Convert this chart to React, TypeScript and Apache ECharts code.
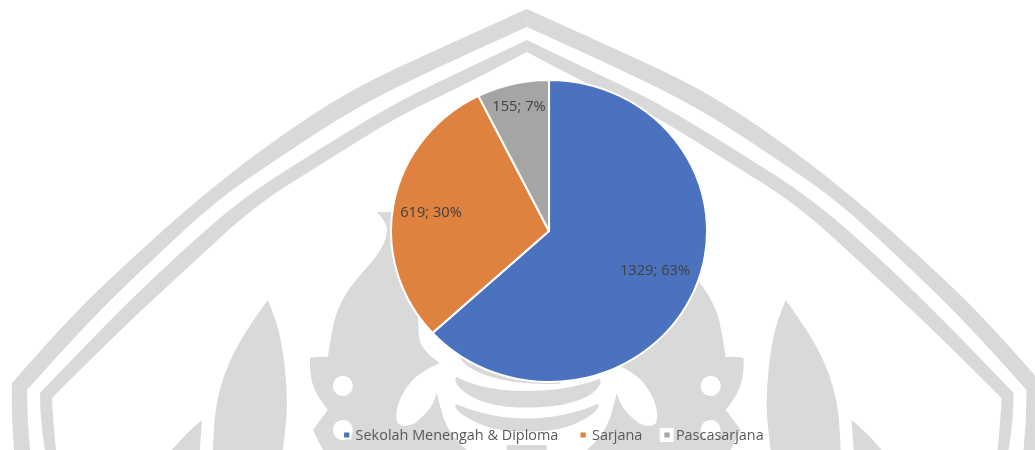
import React, { useEffect, useRef } from "react";
import * as echarts from "echarts";

const categories = ["Sekolah Menengah & Diploma", "Sarjana", "Pascasarjana"];
const values = [1329, 619, 155];
const sliceColors = ["#4A72BE", "#E0823F", "#A5A5A5"];

// The reference is stretched horizontally: the pie is 314 wide and 300 tall.
const STRETCH = 157 / 150;
const PAGE_W = 1035;
const PAGE_H = 450;
const AXIS = 527; // the watermark's axis of symmetry
const GREY = "#D9D9D9";

type P = [number, number];
const labelCentres: P[] = [[655, 270], [431, 212], [519, 106]];

// Watermark outlines. Each inner list is one smooth run; runs meet at sharp corners.
const band1Outer: P[][] = [[[527, 9], [440, 48], [350, 90], [270, 143], [197, 200], [130, 260], [67, 320], [12, 383]], [[12, 383], [11, 410], [14, 450]]];
const band1Inner: P[][] = [[[527, 27], [440, 66], [355, 108], [280, 157], [217, 200], [150, 262], [85, 325], [27, 390]], [[27, 390], [27, 420], [30, 450]]];
const band2Outer: P[][] = [[[527, 40], [460, 72], [395, 103], [310, 155], [240, 200], [170, 262], [105, 325], [40, 393]], [[40, 393], [40, 420], [45, 450]]];
const band2Inner: P[][] = [[[527, 52], [465, 85], [400, 115], [320, 165], [256, 205], [185, 270], [115, 335], [52, 398]], [[52, 398], [53, 420], [56, 450]]];
const leafBig: P[][] = [[[268, 300], [252, 322], [235, 350], [224, 375], [217, 400], [214, 425], [213, 450]], [[213, 450], [283, 450]], [[283, 450], [287, 420], [287, 387], [283, 350], [277, 322], [268, 300]]];
const leafSmall: P[][] = [[[202, 420], [187, 432], [172, 450]], [[172, 450], [200, 450]], [[200, 450], [202, 420]]];
const bodyLeft: P[][] = [
  [[527, 212], [377, 212]],
  [[377, 212], [386, 222], [388, 233], [380, 253], [353, 283], [341, 302], [333, 323], [328, 357]],
  [[328, 357], [318, 356], [310, 358]],
  [[310, 358], [310, 370], [312, 383], [318, 397], [328, 410]],
  [[328, 410], [320, 420], [313, 430]],
  [[313, 430], [318, 440], [323, 450]],
  [[323, 450], [527, 450]],
];
const whiteLeft: P[][] = [
  [[527, 300], [418, 300]],
  [[418, 300], [418, 327], [421, 350], [440, 363]],
  [[440, 363], [420, 372], [404, 390], [396, 410], [397, 426], [412, 426], [426, 414], [434, 403], [437, 393]],
  [[437, 393], [441, 410], [447, 427], [456, 440], [467, 450]],
  [[467, 450], [507, 450]],
  [[507, 450], [507, 445]],
  [[507, 445], [527, 445]],
];
const crescent: P[][] = [[[450, 340], [458, 358], [475, 372], [505, 381], [535, 384], [560, 384]], [[560, 384], [560, 340]], [[560, 340], [450, 340]]];
const bowlBand1: P[][] = [
  [[456, 377], [480, 388], [527, 392], [574, 388], [600, 379]],
  [[600, 379], [603, 382], [590, 397], [560, 406], [527, 408], [495, 406], [468, 396], [454, 382], [456, 377]],
];
const bowlBand2: P[][] = [
  [[456, 404], [480, 414], [527, 420], [574, 414], [598, 404]],
  [[598, 404], [601, 407], [585, 420], [560, 430], [527, 432], [495, 430], [470, 420], [454, 408], [456, 404]],
];
const holesLeft: P[] = [[343, 386], [343, 430]];
const holeRadius = 10;

const mirrorPts = (pts: P[]): P[] => pts.map(([x, y]) => [2 * AXIS - x, y] as P);
const mirrorRuns = (runs: P[][]): P[][] => runs.map(mirrorPts);
const reverseRuns = (runs: P[][]): P[][] => [...runs].reverse().map((r) => [...r].reverse());
const fmt = ([x, y]: P) => `${x.toFixed(1)} ${y.toFixed(1)}`;

// Smooth curve through a run: quadratic segments between midpoints, hitting both ends.
function runToPath(pts: P[]): string {
  if (pts.length < 3) return pts.slice(1).map((p) => `L ${fmt(p)}`).join(" ");
  let d = "";
  for (let i = 1; i < pts.length - 1; i++) {
    const next: P = i === pts.length - 2 ? pts[i + 1] : [(pts[i][0] + pts[i + 1][0]) / 2, (pts[i][1] + pts[i + 1][1]) / 2];
    d += `Q ${fmt(pts[i])} ${fmt(next)} `;
  }
  return d;
}

function outlineToPath(runs: P[][]): string {
  return `M ${fmt(runs[0][0])} ${runs.map(runToPath).join(" ")} Z`;
}

let shapeCount = 0;
function shape(runs: P[][], fill: string) {
  const name = `watermark-${shapeCount++}`;
  echarts.graphic.registerShape(name, echarts.graphic.extendPath(outlineToPath(runs), {}));
  return { type: name, x: 0, y: 0, style: { fill, stroke: "none" }, silent: true };
}

const bandRuns = (outer: P[][], inner: P[][]): P[][] => [...outer, [outer[1][2], inner[1][2]], ...reverseRuns(inner)];
const symmetric = (left: P[][]): P[][] => [...left, ...reverseRuns(mirrorRuns(left))];

function watermark() {
  const holes = [...holesLeft, ...mirrorPts(holesLeft)];
  const band1 = bandRuns(band1Outer, band1Inner);
  const band2 = bandRuns(band2Outer, band2Inner);
  return [
    shape(band1, GREY),
    shape(mirrorRuns(band1), GREY),
    shape(band2, GREY),
    shape(mirrorRuns(band2), GREY),
    shape(leafBig, GREY),
    shape(mirrorRuns(leafBig), GREY),
    shape(leafSmall, GREY),
    shape(mirrorRuns(leafSmall), GREY),
    shape(symmetric(bodyLeft), GREY),
    shape(symmetric(whiteLeft), "#FFFFFF"),
    shape(crescent, GREY),
    shape(bowlBand1, GREY),
    shape(bowlBand2, GREY),
    ...holes.map(([cx, cy]) => ({
      type: "circle",
      shape: { cx, cy, r: holeRadius },
      style: { fill: "#FFFFFF" },
      silent: true,
    })),
    {
      type: "rect",
      shape: { x: 660, y: 428, width: 14, height: 14 },
      style: { fill: "#FFFFFF" },
      silent: true,
    },
  ];
}

export default function App() {
  const ref = useRef<HTMLDivElement>(null);
  useEffect(() => {
    document.body.style.margin = "0";
    const chart = echarts.init(ref.current!, undefined, { renderer: "svg" });
    chart.setOption({
      animation: false,
      backgroundColor: "#FFFFFF",
      color: sliceColors,
      textStyle: { fontFamily: "'Open Sans', sans-serif" },
      graphic: {
        elements: [
          {
            type: "group",
            x: 0,
            y: 0,
            scaleX: 1 / STRETCH,
            scaleY: 1,
            z: 0,
            children: watermark(),
          },
        ],
      },
      legend: {
        data: categories,
        left: 342 / STRETCH,
        top: 428,
        padding: 0,
        orient: "horizontal",
        icon: "rect",
        itemWidth: 7,
        itemHeight: 7,
        itemGap: 19,
        selectedMode: false,
        textStyle: { color: "#595959", fontSize: 13.8, fontFamily: "'Open Sans', sans-serif" },
      },
      series: [
        {
          type: "pie",
          center: [549 / STRETCH, 231],
          radius: [0, 151],
          startAngle: 90,
          clockwise: true,
          percentPrecision: 0,
          silent: true,
          data: categories.map((name, i) => ({ name, value: values[i] })),
          itemStyle: { borderColor: "#FFFFFF", borderWidth: 2 },
          labelLine: { show: false },
          label: {
            show: true,
            position: "inside",
            formatter: "{c}; {d}%",
            color: "#404040",
            fontSize: 14,
            fontFamily: "'Open Sans', sans-serif",
          },
          labelLayout: (p: { dataIndex: number }) => ({
            x: labelCentres[p.dataIndex][0] / STRETCH,
            y: labelCentres[p.dataIndex][1],
            align: "center",
            verticalAlign: "middle",
          }),
        },
      ],
    });
    return () => chart.dispose();
  }, []);

  return (
    <div style={{ width: PAGE_W, height: PAGE_H, overflow: "hidden", position: "relative" }}>
      <div
        ref={ref}
        style={{
          width: PAGE_W / STRETCH,
          height: PAGE_H,
          transform: `scaleX(${STRETCH})`,
          transformOrigin: "0 0",
          filter: "blur(0.6px)",
        }}
      />
    </div>
  );
}
